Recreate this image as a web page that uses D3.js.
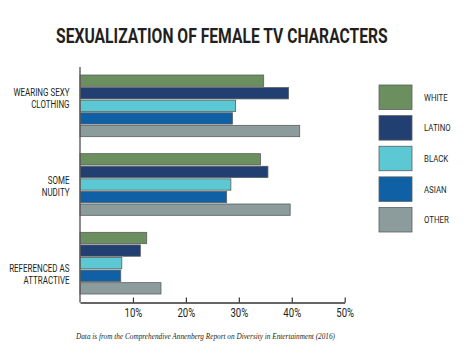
<!DOCTYPE html>
<html lang="en">
<head>
    <meta charset="UTF-8">
    <title>Sexualization of female TV characters</title>
    <style>
        body { margin: 0; background: #fff; }
        .chart svg { display: block; }
        .cond { font-family: "Roboto", "Liberation Sans", sans-serif; }
        .bar { stroke: #5a5f60; stroke-width: 0.8; }
    </style>
</head>
<body>
    <div class="chart"></div>
    <script src="https://cdn.jsdelivr.net/npm/d3@7"></script>
    <script>
    "use strict";

    var categories = ["WEARING SEXY|CLOTHING", "SOME|NUDITY", "REFERENCED AS|ATTRACTIVE"];
    var series = ["WHITE", "LATINO", "BLACK", "ASIAN", "OTHER"];
    var colors = ["#6b8f5e", "#213f71", "#5cc8d3", "#0f60a4", "#8c9b9b"];
    var white  = [34.7, 34.1, 12.6];
    var latino = [39.4, 35.5, 11.4];
    var black  = [29.4, 28.5, 7.9];
    var asian  = [28.8, 27.7, 7.7];
    var other  = [41.5, 39.7, 15.3];
    var tickValues = [10, 20, 30, 40, 50];

    var values = [white, latino, black, asian, other];

    var svg = d3.select(".chart").append("svg")
        .attr("width", 475)
        .attr("height", 354);

    // no condensed face installed: squeeze text horizontally instead
    function squeezed(parent, px, py, k) {
        return parent.append("text")
            .attr("class", "cond")
            .attr("transform", "translate(" + px + "," + py + ") scale(" + k + ",1)");
    }

    // title, squeezed to the reference width
    var title = squeezed(svg, 56, 42.5, 1)
        .style("font-size", "21px")
        .style("font-weight", "bold")
        .style("fill", "#231f20")
        .text("SEXUALIZATION OF FEMALE TV CHARACTERS");
    var titleLen = title.node().getComputedTextLength();
    title.attr("transform", "translate(56,42.5) scale(" + (332 / titleLen) + ",1)");

    // scales
    var x = d3.scaleLinear().domain([0, 50]).range([80, 344.7]);

    var y0 = d3.scaleBand().domain(categories).range([75, 294]).paddingInner(0.216);
    var y1 = d3.scaleBand().domain(series).range([0, y0.bandwidth()]).paddingInner(0.1);
    var color = d3.scaleOrdinal().domain(series).range(colors);
    var labelY = d3.scalePoint().domain(categories).range([98, 274]);

    // bars
    var groups = svg.selectAll("g.group")
        .data(categories)
        .enter().append("g")
        .attr("class", "group")
        .attr("transform", function(d) { return "translate(0," + y0(d) + ")"; });

    groups.selectAll("rect.bar")
        .data(function(c, ci) {
            return series.map(function(s, si) { return {s: s, v: values[si][ci]}; });
        })
        .enter().append("rect")
        .attr("class", "bar")
        .attr("x", x(0))
        .attr("y", function(d) { return y1(d.s); })
        .attr("width", function(d) { return x(d.v) - x(0); })
        .attr("height", y1.bandwidth())
        .style("fill", function(d) { return color(d.s); });

    // category labels
    categories.forEach(function(c) {
        var lines = c.split("|");
        lines.forEach(function(line, i) {
            squeezed(svg, 69.5, labelY(c) + (i - (lines.length - 1) / 2) * 12.3, 0.76)
                .attr("dy", "0.36em")
                .attr("text-anchor", "end")
                .style("font-size", "10.5px")
                .style("fill", "#231f20")
                .text(line);
        });
    });

    // left axis line
    svg.append("line")
        .attr("x1", x(0)).attr("x2", x(0))
        .attr("y1", 67).attr("y2", 302.5)
        .style("stroke", "#5a5a5a")
        .style("stroke-width", 1.4);

    // bottom axis
    var xAxis = d3.axisBottom(x)
        .tickValues(tickValues)
        .tickSizeInner(-5)
        .tickSizeOuter(0)
        .tickFormat(function(d) { return d + "%"; });

    var gx = svg.append("g")
        .attr("transform", "translate(0,302.5)")
        .call(xAxis);
    gx.select(".domain").style("stroke", "#333").style("stroke-width", 1.3);
    gx.selectAll(".tick line").style("stroke", "#333").style("stroke-width", 1.2);
    gx.selectAll(".tick text").remove();
    gx.selectAll(".tick").each(function(d) {
        squeezed(d3.select(this), 0, 14, 0.8)
            .attr("text-anchor", "middle")
            .style("font-size", "12px")
            .style("fill", "#231f20")
            .text(d + "%");
    });

    // legend
    var ly = d3.scaleBand().domain(series).range([85, 232]).paddingInner(0.2);
    var legend = svg.selectAll("g.legend")
        .data(series)
        .enter().append("g")
        .attr("class", "legend")
        .attr("transform", function(d) { return "translate(379," + ly(d) + ")"; });

    legend.append("rect")
        .attr("width", 33)
        .attr("height", ly.bandwidth())
        .style("fill", function(d) { return color(d); })
        .style("stroke", "#5a5f60")
        .style("stroke-width", 0.8);

    legend.each(function(d) {
        squeezed(d3.select(this), 45, ly.bandwidth() / 2, 0.8)
            .attr("dy", "0.36em")
            .style("font-size", "9.8px")
            .style("fill", "#231f20")
            .text(d);
    });

    // source note
    svg.append("text")
        .attr("x", 76)
        .attr("y", 338.5)
        .attr("textLength", 259)
        .attr("lengthAdjust", "spacingAndGlyphs")
        .style("font-family", "'Liberation Serif', 'DejaVu Serif', serif")
        .style("font-style", "italic")
        .style("font-size", "8.5px")
        .style("fill", "#231f20")
        .text("Data is from the Comprehendive Annenberg Report on Diversity in Entertainment (2016)");
    </script>
</body>
</html>
